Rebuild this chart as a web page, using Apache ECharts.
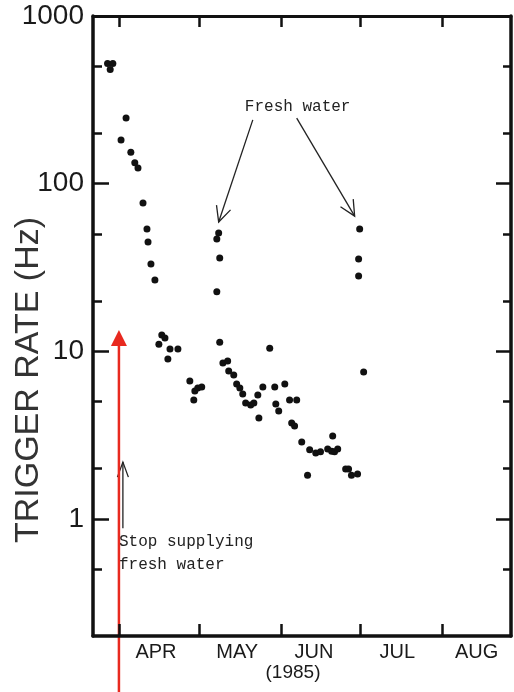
<!DOCTYPE html>
<html>
<head>
<meta charset="utf-8">
<script src="https://cdn.jsdelivr.net/npm/echarts@6/dist/echarts.min.js"></script>
<style>
  html, body { margin: 0; padding: 0; background: #fff; }
  #chart { width: 514px; height: 692px; }
</style>
</head>
<body>
<div id="chart"></div>
<script>
// x = day of year 1985 (Apr 1 = 91), y = trigger rate in Hz
const days = [
  86.5, 88.5, 87.5, 93.5, 91.6, 95.3, 96.8, 98.0, 99.9, 101.4,
  101.8, 102.9, 104.4, 105.9, 107.0, 108.2, 110.1, 113.1, 109.3, 117.6,
  119.5, 120.6, 122.1, 119.1, 128.5, 127.8, 128.9, 127.8, 128.9, 130.1,
  131.9, 132.3, 134.2, 135.3, 136.5, 137.6, 138.7, 140.6, 141.8, 143.3,
  145.2, 143.7, 147.8, 149.7, 153.5, 150.1, 151.2, 155.3, 158.0, 156.1,
  157.2, 159.9, 162.9, 165.2, 167.0, 169.7, 171.2, 172.3, 173.5, 171.6,
  162.1, 176.5, 177.6, 178.7, 181.0, 181.8, 181.4, 181.4, 183.3
];
const rates = [
  520, 520, 480, 246, 182, 154, 133, 124, 76.6, 53.6,
  44.8, 33.1, 26.6, 11.0, 12.5, 12.0, 10.3, 10.3, 8.98, 6.64,
  5.79, 6.03, 6.11, 5.12, 50.7, 46.7, 36.0, 22.6, 11.3, 8.51,
  8.74, 7.62, 7.21, 6.37, 6.03, 5.56, 4.91, 4.78, 4.91, 5.48,
  6.11, 3.99, 10.4, 6.11, 6.37, 4.84, 4.40, 5.12, 5.12, 3.73,
  3.58, 2.87, 2.58, 2.47, 2.51, 2.61, 2.53, 2.51, 2.61, 3.12,
  1.82, 1.98, 1.98, 1.82, 1.85, 53.6, 35.5, 28.1, 7.52
];

const monthStarts = [91, 121, 152, 182, 213];
const monthLabelAt = [104.8, 135.5, 164.5, 196, 226];
const monthNames = ['APR', 'MAY', 'JUN', 'JUL', 'AUG'];
const majorTicks = [1, 10, 100, 1000];
const minorTicks = [0.5, 2, 5, 20, 50, 200, 500];

// annotations, in data coordinates
const freshLabelAt = [138.4, 286];
const freshArrows = [
  [[141.4, 240], [128.5, 59]],
  [[158, 246], [179.9, 64]]
];
const stopArrow = [[92.3, 0.88], [92.3, 2.18]];
const stopLabelAt = [[90.8, 0.727], [90.8, 0.53]];
const redArrowTip = [90.8, 13.4];

const chart = echarts.init(document.getElementById('chart'));

const black = '#111';
const font = '"Liberation Sans", Arial, sans-serif';

function yAxisDef(pos, ticks, len, lineColor, withLabels) {
  return {
    type: 'log',
    logBase: 10,
    min: 0.2,
    max: 1000,
    position: pos,
    axisLine: { show: true, lineStyle: { color: lineColor, width: 3.5 } },
    axisTick: { show: true, inside: true, length: len, customValues: ticks, lineStyle: { color: black, width: 2.5 } },
    axisLabel: {
      show: withLabels,
      customValues: majorTicks,
      formatter: v => String(v),
      fontSize: 28,
      fontFamily: font,
      color: '#1a1a1a',
      margin: 9
    },
    splitLine: { show: false }
  };
}

const leftMajor = yAxisDef('left', majorTicks, 16, black, true);
leftMajor.name = 'TRIGGER RATE (Hz)';
leftMajor.nameLocation = 'middle';
leftMajor.nameGap = 47;
leftMajor.nameMoveOverlap = false;
// padding pushes the title down toward the lower part of the axis, as in the original
leftMajor.nameTextStyle = { fontSize: 34, fontFamily: font, color: '#333', padding: [0, 108, 0, 0] };

const option = {
  backgroundColor: '#fff',
  animation: false,
  grid: { left: 93, right: 3, top: 16, bottom: 56, outerBoundsMode: 'none', containLabel: false },
  xAxis: [
    {
      type: 'value',
      min: 81,
      max: 239,
      position: 'bottom',
      axisLine: { lineStyle: { color: black, width: 3.5 } },
      axisTick: { inside: true, length: 12, customValues: monthStarts, lineStyle: { color: black, width: 2.5 } },
      axisLabel: {
        customValues: monthLabelAt,
        formatter: v => monthNames[monthLabelAt.indexOf(v)],
        fontSize: 20,
        fontFamily: font,
        color: '#1a1a1a',
        margin: 6
      },
      splitLine: { show: false },
      name: '(1985)',
      nameLocation: 'middle',
      nameGap: 27,
      nameMoveOverlap: false,
      nameTextStyle: { fontSize: 19, fontFamily: font, color: '#1a1a1a', padding: [0, 18, 0, 0] }
    },
    {
      type: 'value',
      min: 81,
      max: 239,
      position: 'top',
      axisLine: { lineStyle: { color: black, width: 3 } },
      axisTick: { inside: true, length: 11, customValues: monthStarts, lineStyle: { color: black, width: 2.5 } },
      axisLabel: { show: false },
      splitLine: { show: false }
    }
  ],
  yAxis: [
    leftMajor,
    yAxisDef('left', minorTicks, 9, 'rgba(0,0,0,0)', false),
    yAxisDef('right', majorTicks, 15, black, false),
    yAxisDef('right', minorTicks, 8, 'rgba(0,0,0,0)', false)
  ],
  series: [
    {
      type: 'scatter',
      symbol: 'circle',
      symbolSize: 7,
      itemStyle: { color: black, opacity: 1 },
      data: days.map((d, i) => [d, rates[i]])
    }
  ]
};

chart.setOption(option);

// annotations drawn on top, placed via the axes
const px = p => chart.convertToPixel({ xAxisIndex: 0, yAxisIndex: 0 }, p);

function openHead(tip, from, len, ang) {
  const a = Math.atan2(from[1] - tip[1], from[0] - tip[0]);
  const p1 = [tip[0] + len * Math.cos(a + ang), tip[1] + len * Math.sin(a + ang)];
  const p2 = [tip[0] + len * Math.cos(a - ang), tip[1] + len * Math.sin(a - ang)];
  return { type: 'polyline', shape: { points: [p1, tip, p2] }, style: { stroke: '#222', lineWidth: 1.3, fill: null } };
}

const graphics = [];
const mono = '"Liberation Mono", "Courier New", monospace';

const fl = px(freshLabelAt);
graphics.push({ type: 'text', x: fl[0], y: fl[1], style: { text: 'Fresh water', font: '16px ' + mono, fill: '#222', textAlign: 'left', textVerticalAlign: 'middle' } });

freshArrows.forEach(seg => {
  const a = px(seg[0]), b = px(seg[1]);
  graphics.push({ type: 'line', shape: { x1: a[0], y1: a[1], x2: b[0], y2: b[1] }, style: { stroke: '#222', lineWidth: 1.3 } });
  graphics.push(openHead(b, a, 17, 0.45));
});

const s0 = px(stopArrow[0]), s1 = px(stopArrow[1]);
graphics.push({ type: 'line', shape: { x1: s0[0], y1: s0[1], x2: s1[0], y2: s1[1] }, style: { stroke: '#222', lineWidth: 1.3 } });
graphics.push(openHead(s1, s0, 16, 0.35));

['Stop supplying', 'fresh water'].forEach((t, i) => {
  const p = px(stopLabelAt[i]);
  graphics.push({ type: 'text', x: p[0], y: p[1], style: { text: t, font: '16px ' + mono, fill: '#222', textAlign: 'left', textVerticalAlign: 'middle' } });
});

const rt = px(redArrowTip);
const red = '#e8291f';
graphics.push({ type: 'line', shape: { x1: rt[0], y1: rt[1] + 14, x2: rt[0], y2: chart.getHeight() }, style: { stroke: red, lineWidth: 2.5 } });
graphics.push({ type: 'polygon', shape: { points: [[rt[0], rt[1]], [rt[0] - 8, rt[1] + 16], [rt[0] + 8, rt[1] + 16]] }, style: { fill: red } });

chart.setOption({ graphic: graphics });
</script>
</body>
</html>
